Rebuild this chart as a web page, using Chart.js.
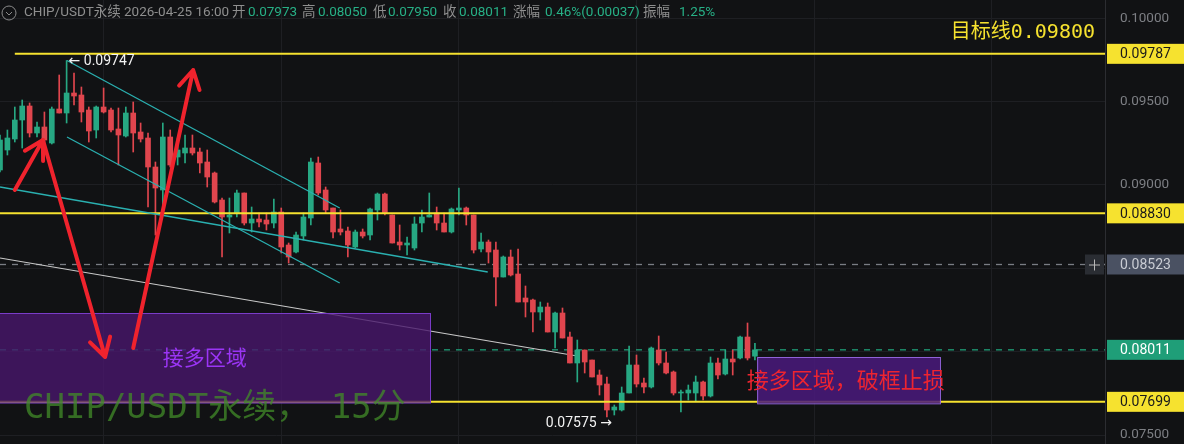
<!DOCTYPE html>
<html>
<head>
<meta charset="utf-8">
<script src="https://cdn.jsdelivr.net/npm/chart.js@4.4.1/dist/chart.umd.min.js"></script>
<style>
  html, body { margin: 0; padding: 0; background: #111214; }
  #wrap { width: 1184px; height: 444px; position: relative; }
</style>
</head>
<body>
<div id="wrap"><canvas id="kline"></canvas></div>
<script>
// 15m candles, oldest first
const opens = [0.09090,0.09210,0.09276,0.09390,0.09474,0.09312,0.09348,0.09252,0.09456,0.09432,
  0.09552,0.09540,0.09450,0.09330,0.09468,0.09450,0.09336,0.09294,0.09432,0.09318,
  0.09282,0.09108,0.08970,0.09288,0.09168,0.09192,0.09222,0.09198,0.09138,0.09072,
  0.08910,0.08808,0.08832,0.08952,0.08772,0.08796,0.08790,0.08772,0.08838,0.08640,
  0.08598,0.08694,0.08802,0.09132,0.08970,0.08862,0.08736,0.08724,0.08628,0.08718,
  0.08700,0.08850,0.08946,0.08820,0.08658,0.08640,0.08622,0.08772,0.08808,0.08832,
  0.08772,0.08718,0.08850,0.08862,0.08820,0.08616,0.08658,0.08610,0.08448,0.08568,
  0.08466,0.08322,0.08310,0.08238,0.08268,0.08118,0.08232,0.08088,0.07932,0.08010,
  0.07950,0.07860,0.07806,0.07650,0.07650,0.07752,0.07920,0.07812,0.07788,0.08010,
  0.07932,0.07878,0.07752,0.07752,0.07752,0.07818,0.07734,0.07932,0.07866,0.07956,
  0.07962,0.08088,0.07973];
const highs = [0.09300,0.09330,0.09468,0.09510,0.09492,0.09378,0.09438,0.09468,0.09660,0.09747,
  0.09672,0.09588,0.09468,0.09474,0.09582,0.09462,0.09462,0.09468,0.09498,0.09372,
  0.09312,0.09138,0.09372,0.09330,0.09282,0.09300,0.09300,0.09222,0.09210,0.09078,
  0.08922,0.08922,0.08970,0.08952,0.08868,0.08832,0.08832,0.08916,0.08862,0.08652,
  0.08718,0.08832,0.09162,0.09168,0.08988,0.08862,0.08850,0.08748,0.08730,0.08736,
  0.08862,0.08952,0.08952,0.08820,0.08760,0.08688,0.08808,0.08850,0.08952,0.08868,
  0.08832,0.08862,0.08982,0.08868,0.08820,0.08712,0.08670,0.08658,0.08574,0.08610,
  0.08616,0.08394,0.08316,0.08298,0.08292,0.08238,0.08262,0.08118,0.08070,0.08010,
  0.07950,0.07890,0.07848,0.07680,0.07788,0.08034,0.07980,0.07842,0.08028,0.08094,
  0.07998,0.07884,0.07770,0.07800,0.07854,0.07824,0.07968,0.07962,0.08010,0.08010,
  0.08094,0.08172,0.08050];
const lows = [0.09078,0.09180,0.09258,0.09222,0.09288,0.09288,0.09198,0.09246,0.09432,0.09372,
  0.09480,0.09378,0.09258,0.09282,0.09432,0.09318,0.09120,0.09288,0.09198,0.09258,
  0.08868,0.08700,0.08850,0.09108,0.09120,0.09132,0.09180,0.09072,0.08988,0.08892,
  0.08568,0.08712,0.08808,0.08760,0.08718,0.08748,0.08730,0.08742,0.08592,0.08532,
  0.08592,0.08670,0.08760,0.08940,0.08832,0.08682,0.08700,0.08568,0.08622,0.08682,
  0.08670,0.08790,0.08820,0.08652,0.08610,0.08580,0.08610,0.08718,0.08808,0.08730,
  0.08718,0.08712,0.08820,0.08760,0.08592,0.08598,0.08532,0.08274,0.08448,0.08454,
  0.08298,0.08208,0.08118,0.08190,0.08118,0.08022,0.08082,0.07932,0.07818,0.07872,
  0.07848,0.07740,0.07608,0.07620,0.07644,0.07752,0.07788,0.07752,0.07782,0.07920,
  0.07866,0.07740,0.07638,0.07710,0.07704,0.07710,0.07728,0.07836,0.07860,0.07860,
  0.07956,0.07950,0.07950];
const closes = [0.09270,0.09282,0.09390,0.09474,0.09312,0.09348,0.09270,0.09456,0.09432,0.09552,
  0.09534,0.09438,0.09324,0.09468,0.09438,0.09330,0.09300,0.09432,0.09312,0.09276,
  0.09108,0.08982,0.09288,0.09120,0.09210,0.09222,0.09192,0.09132,0.09048,0.08898,
  0.08808,0.08820,0.08952,0.08772,0.08796,0.08778,0.08766,0.08838,0.08628,0.08568,
  0.08700,0.08808,0.09138,0.08952,0.08850,0.08718,0.08718,0.08640,0.08718,0.08694,
  0.08856,0.08946,0.08832,0.08652,0.08640,0.08652,0.08766,0.08808,0.08820,0.08772,
  0.08718,0.08856,0.08862,0.08820,0.08610,0.08658,0.08598,0.08448,0.08568,0.08460,
  0.08298,0.08298,0.08238,0.08268,0.08118,0.08232,0.08082,0.07932,0.08010,0.07938,
  0.07848,0.07800,0.07650,0.07668,0.07752,0.07920,0.07806,0.07788,0.08022,0.07932,
  0.07872,0.07752,0.07758,0.07770,0.07818,0.07734,0.07932,0.07860,0.07956,0.07938,
  0.08088,0.07962,0.08011];

const yTicks = [0.075, 0.080, 0.085, 0.090, 0.095, 0.100];
const xGridIdx = [14, 38, 62, 86, 110, 134];

// drawn levels
const yellowLevels = [0.09787, 0.08830, 0.07699];
const lastPrice = 0.08011;
const crossPrice = 0.08523;
const targetText = '目标线0.09800';
const highLabel = 0.09747;
const lowLabel = 0.07575;

// trend lines: [idxA, priceA, idxB, priceB]
const tealLines = [
  [9.05, 0.09747, 45.9, 0.08862],
  [9.05, 0.09288, 45.9, 0.08412],
  [0, 0.08988, 65.9, 0.08478],
];
const greyLine = [0, 0.08562, 78, 0.07974];
const redArrows = [
  [2.0, 0.0897, 5.8, 0.0927],
  [5.8, 0.0927, 14.2, 0.07968],
  [18.0, 0.08022, 26.1, 0.0969],
];
// zones: [idxA, idxB, priceTop, priceBottom]
const zoneLeft = [-1, 58.1, 0.08232, 0.07695];
const zoneRight = [102.3, 127.0, 0.07968, 0.07690];

const UP = '#27a883';
const DOWN = '#e0464e';
const YELLOW = '#f6e22f';
const TEAL = '#2ab0b0';
const RED = '#f0232d';

const idx = closes.map((_, i) => i);
const colors = idx.map(i => closes[i] >= opens[i] ? UP : DOWN);

function drawArrow(ctx, x1, y1, x2, y2) {
  const ang = Math.atan2(y2 - y1, x2 - x1);
  const len = 21, spread = 0.52;
  ctx.beginPath();
  ctx.moveTo(x1, y1);
  ctx.lineTo(x2, y2);
  ctx.moveTo(x2 - len * Math.cos(ang - spread), y2 - len * Math.sin(ang - spread));
  ctx.lineTo(x2, y2);
  ctx.lineTo(x2 - len * Math.cos(ang + spread), y2 - len * Math.sin(ang + spread));
  ctx.stroke();
}

function badge(ctx, left, y, text, bg, fg) {
  ctx.fillStyle = bg;
  ctx.fillRect(left + 2, y - 10, 80, 20);
  ctx.fillStyle = fg;
  ctx.font = '14px Roboto, "Noto Sans"';
  ctx.textAlign = 'left';
  ctx.textBaseline = 'middle';
  ctx.fillText(text, left + 15, y + 1);
}

const overlay = {
  id: 'overlay',
  beforeDraw(chart) {
    const ctx = chart.ctx;
    ctx.save();
    ctx.fillStyle = '#111214';
    ctx.fillRect(0, 0, chart.width, chart.height);
    ctx.restore();
  },
  beforeDatasetsDraw(chart) {
    const { ctx, chartArea, scales: { x, y } } = chart;
    ctx.save();
    ctx.lineWidth = 1.3;
    ctx.setLineDash([6, 6]);
    ctx.strokeStyle = '#7a7d84';
    ctx.beginPath();
    ctx.moveTo(chartArea.left, y.getPixelForValue(crossPrice));
    ctx.lineTo(chartArea.right, y.getPixelForValue(crossPrice));
    ctx.stroke();
    ctx.strokeStyle = '#1f9e78';
    ctx.beginPath();
    ctx.moveTo(chartArea.left, y.getPixelForValue(lastPrice));
    ctx.lineTo(chartArea.right, y.getPixelForValue(lastPrice));
    ctx.stroke();
    ctx.setLineDash([]);
    ctx.strokeStyle = '#c9c9c9';
    ctx.lineWidth = 1.2;
    ctx.beginPath();
    ctx.moveTo(x.getPixelForValue(greyLine[0]), y.getPixelForValue(greyLine[1]));
    ctx.lineTo(x.getPixelForValue(greyLine[2]), y.getPixelForValue(greyLine[3]));
    ctx.stroke();
    ctx.restore();
  },
  afterDatasetsDraw(chart) {
    const { ctx, chartArea, scales: { x, y } } = chart;
    ctx.save();

    // yellow levels
    ctx.strokeStyle = YELLOW;
    ctx.lineWidth = 2;
    yellowLevels.forEach((p, k) => {
      const yy = y.getPixelForValue(p);
      ctx.beginPath();
      ctx.moveTo(k === 0 ? x.getPixelForValue(2) : chartArea.left, yy);
      ctx.lineTo(chartArea.right, yy);
      ctx.stroke();
    });

    // zones
    [zoneLeft, zoneRight].forEach((z, k) => {
      const x1 = x.getPixelForValue(z[0]);
      const x2 = x.getPixelForValue(z[1]);
      const y1 = y.getPixelForValue(z[2]);
      const y2 = y.getPixelForValue(z[3]);
      ctx.fillStyle = k === 0 ? 'rgba(72, 22, 108, 0.8)' : 'rgba(74, 26, 124, 0.85)';
      ctx.fillRect(x1, y1, x2 - x1, y2 - y1);
      ctx.strokeStyle = k === 0 ? '#7a3cc8' : '#9062d8';
      ctx.lineWidth = 1;
      ctx.strokeRect(x1 + 0.5, y1 + 0.5, x2 - x1, y2 - y1);
    });

    // teal channel
    ctx.strokeStyle = TEAL;
    ctx.lineWidth = 1.3;
    tealLines.forEach(l => {
      ctx.beginPath();
      ctx.moveTo(x.getPixelForValue(l[0]), y.getPixelForValue(l[1]));
      ctx.lineTo(x.getPixelForValue(l[2]), y.getPixelForValue(l[3]));
      ctx.stroke();
    });

    // red arrows
    ctx.strokeStyle = RED;
    ctx.lineWidth = 4;
    ctx.lineCap = 'round';
    ctx.lineJoin = 'round';
    redArrows.forEach(a => drawArrow(ctx,
      x.getPixelForValue(a[0]), y.getPixelForValue(a[1]),
      x.getPixelForValue(a[2]), y.getPixelForValue(a[3])));

    // zone texts
    ctx.textBaseline = 'middle';
    ctx.textAlign = 'left';
    ctx.font = '21px "Noto Sans CJK SC"';
    ctx.fillStyle = '#9b35f5';
    ctx.fillText('接多区域', x.getPixelForValue(22), y.getPixelForValue(0.0797));
    ctx.font = '22px "Noto Sans CJK SC"';
    ctx.fillStyle = '#ee2430';
    ctx.fillText('接多区域，破框止损', x.getPixelForValue(100.9), y.getPixelForValue(0.0783));

    // watermark
    ctx.font = '34px "DejaVu Sans Mono", "Noto Sans CJK SC"';
    ctx.fillStyle = 'rgba(66, 140, 40, 0.75)';
    ctx.fillText('CHIP/USDT永续， 15分', 24, 409);

    // high / low markers
    ctx.font = '14px Roboto, "DejaVu Sans"';
    ctx.fillStyle = '#f2f2f2';
    const hi = highs.indexOf(Math.max(...highs));
    ctx.fillText('← ' + highLabel.toFixed(5), x.getPixelForValue(hi) + 2, y.getPixelForValue(highLabel) + 1);
    const lo = lows.indexOf(Math.min(...lows));
    ctx.textAlign = 'right';
    ctx.fillText(lowLabel.toFixed(5) + ' →', x.getPixelForValue(lo) + 5, y.getPixelForValue(lows[lo]) + 6);

    // target text
    ctx.font = '20px "DejaVu Sans Mono", "Noto Sans CJK SC"';
    ctx.fillStyle = YELLOW;
    ctx.textAlign = 'right';
    ctx.fillText(targetText, chartArea.right - 10, 33);
    ctx.restore();
  },
  afterDraw(chart) {
    const { ctx, chartArea, scales: { y } } = chart;
    ctx.save();
    const left = chartArea.right;

    yellowLevels.forEach(p => badge(ctx, left, y.getPixelForValue(p), p.toFixed(5), YELLOW, '#1a1a1a'));
    badge(ctx, left, y.getPixelForValue(crossPrice), crossPrice.toFixed(5), '#4a5162', '#c9ccd3');
    badge(ctx, left, y.getPixelForValue(lastPrice), lastPrice.toFixed(5), '#1f9e78', '#ffffff');

    // crosshair plus
    const cy = y.getPixelForValue(crossPrice);
    ctx.fillStyle = '#2a2d33';
    ctx.fillRect(left - 20, cy - 10, 19, 20);
    ctx.strokeStyle = '#b8b8b8';
    ctx.lineWidth = 1;
    ctx.beginPath();
    ctx.moveTo(left - 16, cy + 0.5); ctx.lineTo(left - 5, cy + 0.5);
    ctx.moveTo(left - 10.5, cy - 5); ctx.lineTo(left - 10.5, cy + 6);
    ctx.stroke();

    // header
    ctx.strokeStyle = '#8a8a8a';
    ctx.lineWidth = 1;
    ctx.beginPath();
    ctx.arc(9, 13, 7, 0, Math.PI * 2);
    ctx.stroke();
    ctx.beginPath();
    ctx.moveTo(6, 12); ctx.lineTo(9, 15); ctx.lineTo(12, 12);
    ctx.stroke();

    const gray = '#8f8f8f', green = '#27b086';
    const parts = [
      ['CHIP/USDT永续', 24, gray], ['2026-04-25 16:00', 124, gray],
      ['开', 232, gray], ['0.07973', 248, green],
      ['高', 302, gray], ['0.08050', 318, green],
      ['低', 373, gray], ['0.07950', 388, green],
      ['收', 443, gray], ['0.08011', 459, green],
      ['涨幅', 513, gray], ['0.46%(0.00037)', 545, green],
      ['振幅', 643, gray], ['1.25%', 679, green],
    ];
    ctx.font = '13.5px Roboto, "Noto Sans CJK SC"';
    ctx.textAlign = 'left';
    ctx.textBaseline = 'middle';
    parts.forEach(([t, xx, c]) => {
      ctx.fillStyle = c;
      ctx.fillText(t, xx, 13);
    });
    ctx.restore();
  }
};

new Chart(document.getElementById('kline'), {
  type: 'bar',
  data: {
    datasets: [
      {
        label: 'wick',
        data: idx.map(i => ({ x: i, y: [lows[i], highs[i]] })),
        backgroundColor: colors,
        barThickness: 1,
        grouped: false,
      },
      {
        label: 'body',
        data: idx.map(i => ({ x: i, y: [opens[i], closes[i]] })),
        backgroundColor: colors,
        barThickness: 5,
        minBarLength: 1,
        grouped: false,
      },
    ],
  },
  options: {
    responsive: true,
    maintainAspectRatio: false,
    animation: false,
    devicePixelRatio: 1,
    layout: { padding: 0 },
    plugins: { legend: { display: false }, tooltip: { enabled: false } },
    scales: {
      x: {
        type: 'linear',
        min: 0,
        max: 149.3,
        offset: false,
        grid: { color: '#1e1f23', drawTicks: false, offset: false },
        border: { display: false },
        ticks: { display: false },
        afterBuildTicks: s => { s.ticks = xGridIdx.map(v => ({ value: v })); },
        afterFit: s => { s.height = 0; s.paddingLeft = 0; s.paddingRight = 0; },
      },
      y: {
        position: 'right',
        min: 0.07446,
        max: 0.1011,
        grid: { color: '#1e1f23', drawTicks: false },
        border: { display: true, color: '#2c2d31' },
        ticks: {
          padding: 15,
          color: '#7d7f84',
          font: { size: 13.5, family: 'Roboto' },
          callback: v => (Math.abs(v - 0.08) < 1e-6 || Math.abs(v - 0.085) < 1e-6) ? '' : v.toFixed(5),
        },
        afterBuildTicks: s => { s.ticks = yTicks.map(v => ({ value: v })); },
        afterFit: s => { s.width = 79; s.paddingTop = 0; s.paddingBottom = 0; },
      },
    },
  },
  plugins: [overlay],
});
</script>
</body>
</html>
